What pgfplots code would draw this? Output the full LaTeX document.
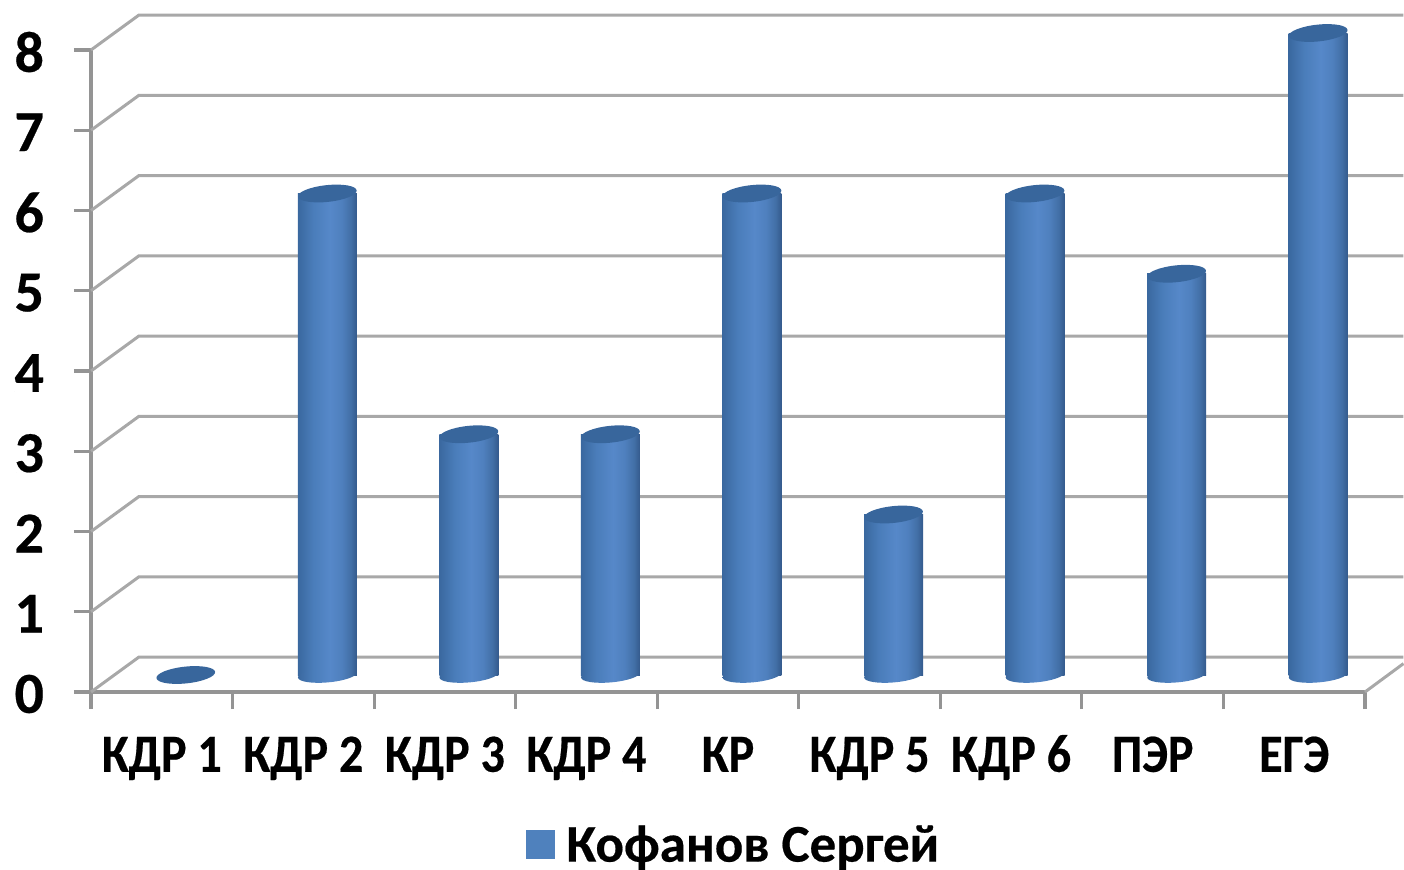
\documentclass[border=0pt]{standalone}
\usepackage{fontspec}
\setmainfont{Carlito}[BoldFeatures={FakeBold=0.4}]
\usepackage{pgfplots}
\usepackage{pgfplotstable}
\pgfplotsset{compat=1.18}
\definecolor{wallgray}{HTML}{A8A8A8}
\definecolor{axisgray}{HTML}{949494}
\definecolor{capblue}{HTML}{38669C}
\definecolor{legblue}{HTML}{4F81BD}
\definecolor{cyla}{HTML}{3A689F}
\definecolor{cylb}{HTML}{4A7DBA}
\definecolor{cylc}{HTML}{5688C9}
\definecolor{cyld}{HTML}{4F80BE}
\definecolor{cyle}{HTML}{426FA6}
\definecolor{cylf}{HTML}{345A8C}
\pgfdeclarehorizontalshading{cyl}{100bp}{color(0bp)=(cyla); color(25bp)=(cyla); color(38bp)=(cylb); color(52bp)=(cylc); color(62bp)=(cyld); color(70bp)=(cyle); color(75bp)=(cylf); color(100bp)=(cylf)}
\pgfdeclareplotmark{cyltop}{\pgftransformrotate{6}\pgfpathellipse{\pgfpointorigin}{\pgfqpoint{14.75pt}{0pt}}{\pgfqpoint{0pt}{4.2pt}}\pgfusepathqfill}
\pgfdeclareplotmark{cylbot}{\pgftransformrotate{5}\pgfpathellipse{\pgfpointorigin}{\pgfqpoint{14.75pt}{0pt}}{\pgfqpoint{0pt}{3.7pt}}\pgfshadepath{cyl}{0}\pgfusepath{discard}}
\pgfplotstableread{
x y
0.5 0
1.5 6
2.5 3
3.5 3
4.5 6
5.5 2
6.5 6
7.5 5
8.5 8
}\scores
\begin{document}
\begin{tikzpicture}
\path[use as bounding box] (-45.5pt,-88.5pt) rectangle (656.5pt,346pt);
\begin{axis}[
  scale only axis,
  width=637pt, height=321pt,
  xmin=0, xmax=9, ymin=0, ymax=8,
  clip=false,
  axis lines=left,
  axis line style={-, draw=axisgray, line width=1.6pt},
  xtick={0,...,9},
  x tick label as interval=true,
  xticklabels={КДР 1,КДР 2,КДР 3,КДР 4,КР,КДР 5,КДР 6,ПЭР,ЕГЭ},
  ytick={0,...,8},
  tick align=outside,
  major tick length=8.5pt,
  tick style={draw=axisgray, line width=1.6pt},
  /pgf/number format/assume math mode=true,
  xticklabel style={font=\bfseries\fontsize{24}{24}\selectfont, black, yscale=1.12, text height=17pt, text depth=5pt, yshift=-7.5pt},
  yticklabel style={font=\bfseries\fontsize{29}{29}\selectfont, black, xshift=-11.5pt, yshift=-1pt},
  legend style={at={(0.505,-0.201)}, anchor=north, draw=none, fill=none, font=\bfseries\fontsize{26.5}{26.5}\selectfont, inner sep=0pt},
  legend image code/.code={\fill[legblue] (0pt,-15pt) rectangle (14pt,-1pt); \path (18pt,-8pt);},
  wall/.style={wallgray, line width=1.5pt, forget plot},
  bars/.style={xshift=12pt, yshift=8.5pt},
]
% walls
\addplot[wall] coordinates {(0,0) (0.339,0.436) (9.272,0.436)};
\addplot[wall] coordinates {(0,1) (0.339,1.436) (9.272,1.436)};
\addplot[wall] coordinates {(0,2) (0.339,2.436) (9.272,2.436)};
\addplot[wall] coordinates {(0,3) (0.339,3.436) (9.272,3.436)};
\addplot[wall] coordinates {(0,4) (0.339,4.436) (9.272,4.436)};
\addplot[wall] coordinates {(0,5) (0.339,5.436) (9.272,5.436)};
\addplot[wall] coordinates {(0,6) (0.339,6.436) (9.272,6.436)};
\addplot[wall] coordinates {(0,7) (0.339,7.436) (9.272,7.436)};
\addplot[wall] coordinates {(0,8) (0.339,8.436) (9.272,8.436)};
\addplot[wall] coordinates {(9,0) (9.272,0.354)};
% cylinders, one plot per bar so that each gets its own shading
\addplot[bars, only marks, mark=cylbot, restrict x to domain=1:9, forget plot] table[x=x, y expr=0*\thisrow{y}] {\scores};
\pgfplotsinvokeforeach{1,...,8}{
  \addplot[bars, ybar, bar width=29.5pt, bar shift=0pt, draw=none, shading=cyl, restrict x to domain=#1.2:#1.8, forget plot] table[x=x, y=y] {\scores};
}
\addplot[bars, only marks, mark=cyltop, capblue, mark options={fill=capblue, draw=none}] table[x=x, y=y] {\scores};
\addlegendentry{Кофанов Сергей}
\end{axis}
\end{tikzpicture}
\end{document}
